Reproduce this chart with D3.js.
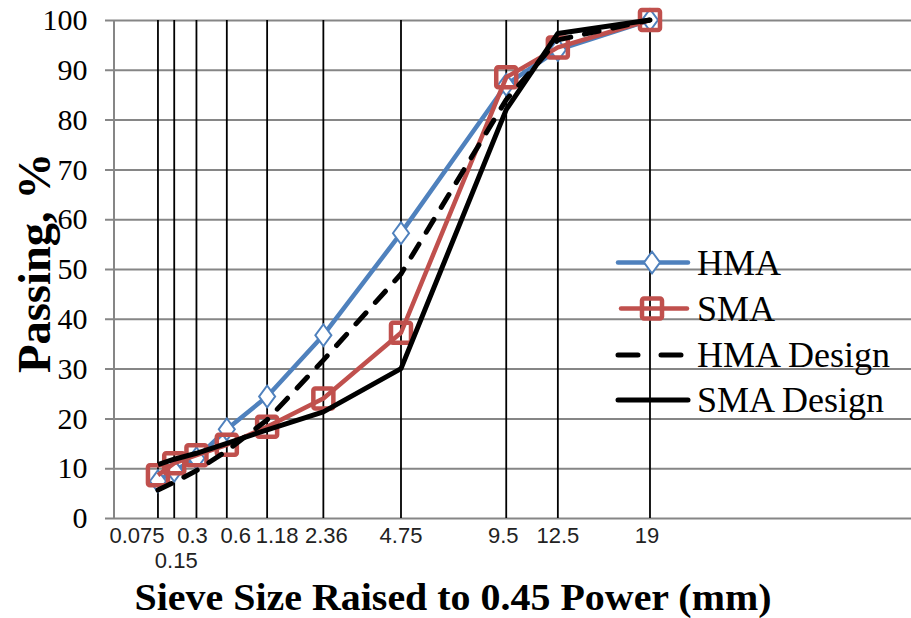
<!DOCTYPE html>
<html>
<head>
<meta charset="utf-8">
<script src="https://cdn.jsdelivr.net/npm/d3@7"></script>
<style>
  html, body { margin: 0; padding: 0; background: #fff; }
  svg { display: block; }
</style>
</head>
<body>
<svg id="chart" width="911" height="618"></svg>
<script>
// sieve sizes (mm) and passing percentages
var sieves = [0.075, 0.15, 0.3, 0.6, 1.18, 2.36, 4.75, 9.5, 12.5, 19];
var sieveLabels = ["0.075", "0.15", "0.3", "0.6", "1.18", "2.36", "4.75", "9.5", "12.5", "19"];
var hma       = [7.4, 9.5, 12.0, 17.8, 24.4, 36.7, 57.2, 87.0, 94.0, 100];
var sma       = [8.6, 11.0, 12.6, 14.7, 18.3, 24.0, 37.2, 88.5, 94.5, 100];
var hmaDesign = [5.6, 7.2, 9.5, 13.5, 19.7, 31.7, 49.0, 84.0, 96.0, 100];
var smaDesign = [10.7, 11.8, 13.0, 15.0, 17.7, 21.3, 30.0, 82.0, 97.3, 100];
var yTicks = [0, 10, 20, 30, 40, 50, 60, 70, 80, 90, 100];
var seriesNames = ["HMA", "SMA", "HMA Design", "SMA Design"];

// label nudges so the crowded small sieves don't collide (px, rows)
var labelShift = [-21, 2, -4, 9, 10, 3, 0, -3, 0, -3];
var labelRow   = [0, 1, 0, 0, 0, 0, 0, 0, 0, 0];

var width = 911, height = 618;
var power = 0.45;

var svg = d3.select("#chart");

var x = d3.scaleLinear().domain([0, 6]).range([113.5, 113.5 + 6 * 142.6]);
var y = d3.scaleLinear().domain([0, 100]).range([518, 20]);
var px = function(s) { return x(Math.pow(s, power)); };

// horizontal gridlines
svg.append("g")
    .attr("transform", "translate(105,0)")
    .call(d3.axisLeft(y).tickValues(yTicks).tickSize(-(width - 105)).tickFormat(""))
    .call(function(g) {
      g.select(".domain").remove();
      g.selectAll("line").attr("stroke", "#868686").attr("stroke-width", 2);
    });

// y axis labels
svg.append("g")
    .attr("transform", "translate(113.5,0)")
    .call(d3.axisLeft(y).tickValues(yTicks).tickSizeInner(0).tickSizeOuter(0).tickPadding(26))
    .call(function(g) {
      g.select(".domain").attr("stroke", "#868686").attr("stroke-width", 2);
      g.selectAll("text")
        .attr("font-family", "'Liberation Serif', 'Times New Roman', serif")
        .attr("font-size", 30)
        .attr("fill", "#000");
    });

// vertical sieve lines
svg.append("g").selectAll("line")
    .data(sieves)
    .enter().append("line")
    .attr("x1", px).attr("x2", px)
    .attr("y1", y(100)).attr("y2", y(0))
    .attr("stroke", "#000")
    .attr("stroke-width", 1.8);

// x labels
svg.append("g").selectAll("text")
    .data(sieves)
    .enter().append("text")
    .attr("x", function(d, i) { return px(d) + labelShift[i]; })
    .attr("y", function(d, i) { return 543 + labelRow[i] * 25; })
    .attr("text-anchor", "middle")
    .attr("font-family", "'Liberation Sans', Arial, sans-serif")
    .attr("font-size", 22)
    .attr("fill", "#222")
    .text(function(d, i) { return sieveLabels[i]; });

var line = d3.line()
    .x(function(d, i) { return px(sieves[i]); })
    .y(function(d) { return y(d); });

// HMA
svg.append("path")
    .datum(hma)
    .attr("d", line)
    .attr("fill", "none")
    .attr("stroke", "#4f81bd")
    .attr("stroke-width", 4.5)
    .attr("stroke-linejoin", "round");
svg.append("g").selectAll("path")
    .data(hma)
    .enter().append("path")
    .attr("d", d3.symbol(d3.symbolDiamond, 170))
    .attr("transform", function(d, i) { return "translate(" + px(sieves[i]) + "," + y(d) + ") scale(1.15,0.9)"; })
    .attr("fill", "#fff")
    .attr("stroke", "#4f81bd")
    .attr("stroke-width", 1.8);

// SMA
svg.append("path")
    .datum(sma)
    .attr("d", line)
    .attr("fill", "none")
    .attr("stroke", "#c0504d")
    .attr("stroke-width", 4.5)
    .attr("stroke-linejoin", "round");
svg.append("g").selectAll("rect")
    .data(sma)
    .enter().append("rect")
    .attr("x", function(d, i) { return px(sieves[i]) - 10; })
    .attr("y", function(d) { return y(d) - 10; })
    .attr("width", 20).attr("height", 20)
    .attr("rx", 2)
    .attr("fill", "none")
    .attr("stroke", "#c0504d")
    .attr("stroke-width", 4.5)
    .attr("stroke-linejoin", "round");

// HMA Design
svg.append("path")
    .datum(hmaDesign)
    .attr("d", line)
    .attr("fill", "none")
    .attr("stroke", "#000")
    .attr("stroke-width", 5)
    .attr("stroke-linecap", "round")
    .attr("stroke-dasharray", "15,14");

// SMA Design
svg.append("path")
    .datum(smaDesign)
    .attr("d", line)
    .attr("fill", "none")
    .attr("stroke", "#000")
    .attr("stroke-width", 5)
    .attr("stroke-linejoin", "round");

// legend
var legend = svg.append("g");
var legendY = [262.5, 308.5, 355, 400];
var leg = legend.selectAll("g")
    .data(seriesNames)
    .enter().append("g")
    .attr("transform", function(d, i) { return "translate(0," + legendY[i] + ")"; });

leg.append("line")
    .attr("x1", function(d, i) { return i == 1 ? 621 : 618; })
    .attr("x2", function(d, i) { return i == 1 ? 687 : 688; })
    .attr("y1", 0).attr("y2", 0)
    .attr("stroke", function(d, i) { return ["#4f81bd", "#c0504d", "#000", "#000"][i]; })
    .attr("stroke-width", function(d, i) { return i < 2 ? 4.5 : 5; })
    .attr("stroke-linecap", "round")
    .attr("stroke-dasharray", function(d, i) { return i == 2 ? "20,23" : null; });

leg.filter(function(d, i) { return i == 0; })
    .append("path")
    .attr("d", d3.symbol(d3.symbolDiamond, 170))
    .attr("transform", "translate(652,0) scale(1.15,0.9)")
    .attr("fill", "#fff")
    .attr("stroke", "#4f81bd")
    .attr("stroke-width", 1.8);
leg.filter(function(d, i) { return i == 1; })
    .append("rect")
    .attr("x", 642).attr("y", -10)
    .attr("width", 20).attr("height", 20)
    .attr("rx", 2)
    .attr("fill", "none")
    .attr("stroke", "#c0504d")
    .attr("stroke-width", 4.5);

leg.append("text")
    .attr("x", 697)
    .attr("y", 12)
    .attr("font-family", "'Liberation Serif', 'Times New Roman', serif")
    .attr("font-size", 36)
    .attr("fill", "#000")
    .text(function(d) { return d; });

// axis titles
svg.append("text")
    .attr("x", 453)
    .attr("y", 610)
    .attr("text-anchor", "middle")
    .attr("font-family", "'Liberation Serif', 'Times New Roman', serif")
    .attr("font-weight", "bold")
    .attr("font-size", 37)
    .attr("textLength", 637)
    .attr("lengthAdjust", "spacingAndGlyphs")
    .text("Sieve Size Raised to 0.45 Power (mm)");

svg.append("text")
    .attr("transform", "translate(50,263) rotate(-90)")
    .attr("text-anchor", "middle")
    .attr("font-family", "'Liberation Serif', 'Times New Roman', serif")
    .attr("font-weight", "bold")
    .attr("font-size", 47)
    .attr("textLength", 220)
    .attr("lengthAdjust", "spacingAndGlyphs")
    .text("Passing, %");
</script>
</body>
</html>
